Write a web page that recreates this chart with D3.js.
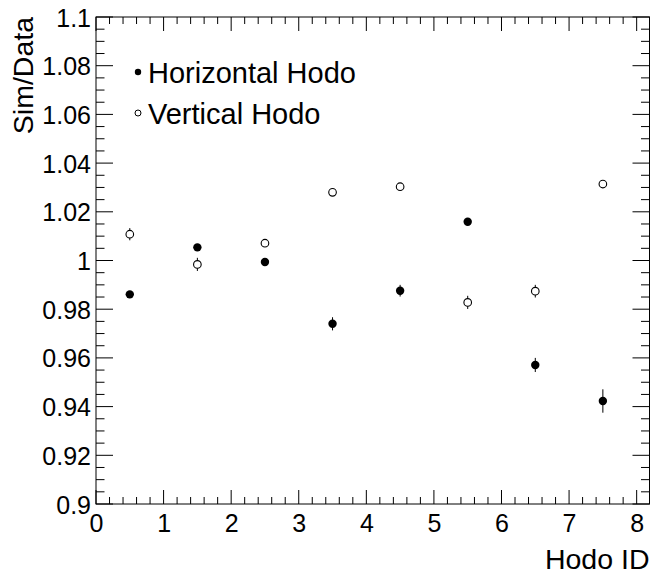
<!DOCTYPE html>
<html><head><meta charset="utf-8">
<script src="https://cdn.jsdelivr.net/npm/d3@7"></script>
<style>
html,body{margin:0;padding:0;background:#fff;}
svg{display:block;font-family:"Liberation Sans",Arial,Helvetica,sans-serif;}
</style></head>
<body>
<script>
const hodoX = [0.5, 1.5, 2.5, 3.5, 4.5, 5.5, 6.5, 7.5];
const horizontalVals = [0.9861, 1.0054, 0.9994, 0.9740, 0.9876, 1.0159, 0.9571, 0.9423];
const horizontalErrs = [0.0012, 0.0008, 0.0008, 0.0027, 0.0024, 0.0008, 0.0029, 0.0048];
const verticalVals = [1.0108, 0.9984, 1.0071, 1.0280, 1.0303, 0.9828, 0.9874, 1.0314];
const verticalErrs = [0.0025, 0.0027, 0.0012, 0.0010, 0.0010, 0.0027, 0.0026, 0.0010];
const xTickLabels = ["0","1","2","3","4","5","6","7","8"];
const yTickLabels = ["0.9","0.92","0.94","0.96","0.98","1","1.02","1.04","1.06","1.08","1.1"];
const legendLabels = ["Horizontal Hodo", "Vertical Hodo"];

const W = 651, H = 575;
const L = 96, R = 649.5, T = 17, B = 504;
const svg = d3.select("body").append("svg").attr("width", W).attr("height", H);

const x = d3.scaleLinear().domain([0, 8.19]).range([L, R]);
const y = d3.scaleLinear().domain([0.9, 1.1]).range([B, T]);

const g = svg.append("g");
const lw = 1;

// frame
g.append("rect").attr("x", L).attr("y", T).attr("width", R - L).attr("height", B - T)
  .attr("fill", "none").attr("stroke", "#000").attr("stroke-width", lw);

// x ticks
const xMajor = d3.range(0, 9, 1);
const xMinor = d3.range(0, 8.19, 0.2).filter(v => Math.abs(v - Math.round(v)) > 1e-6);
const xAxisB = d3.axisBottom(x).tickValues(xMajor).tickSize(0).tickFormat((d,i)=>xTickLabels[i]);
xMajor.forEach(v => {
  g.append("line").attr("x1", x(v)).attr("x2", x(v)).attr("y1", B).attr("y2", B - 14).attr("stroke", "#000");
  g.append("line").attr("x1", x(v)).attr("x2", x(v)).attr("y1", T).attr("y2", T + 14).attr("stroke", "#000");
});
xMinor.forEach(v => {
  g.append("line").attr("x1", x(v)).attr("x2", x(v)).attr("y1", B).attr("y2", B - 7).attr("stroke", "#000");
  g.append("line").attr("x1", x(v)).attr("x2", x(v)).attr("y1", T).attr("y2", T + 7).attr("stroke", "#000");
});
const xa = svg.append("g").attr("transform", `translate(0,${B})`).call(xAxisB);
xa.select(".domain").remove();
xa.selectAll("text").attr("font-size", 25).attr("fill", "#000").attr("dy", null).attr("y", 28)
  .attr("font-family", '"Liberation Sans",Arial,sans-serif');

// y ticks
const yMajor = d3.range(0, 11).map(i => 0.9 + i * 0.02);
const yMinor = d3.range(0, 41).map(i => 0.9 + i * 0.005).filter((v, i) => i % 4 !== 0);
yMajor.forEach(v => {
  g.append("line").attr("x1", L).attr("x2", L + 17).attr("y1", y(v)).attr("y2", y(v)).attr("stroke", "#000");
  g.append("line").attr("x1", R).attr("x2", R - 17).attr("y1", y(v)).attr("y2", y(v)).attr("stroke", "#000");
});
yMinor.forEach(v => {
  g.append("line").attr("x1", L).attr("x2", L + 8.5).attr("y1", y(v)).attr("y2", y(v)).attr("stroke", "#000");
  g.append("line").attr("x1", R).attr("x2", R - 8.5).attr("y1", y(v)).attr("y2", y(v)).attr("stroke", "#000");
});
const yAxisL = d3.axisLeft(y).tickValues(yMajor).tickSize(0).tickPadding(5).tickFormat((d,i)=>yTickLabels[i]);
const ya = svg.append("g").attr("transform", `translate(${L},0)`).call(yAxisL);
ya.select(".domain").remove();
ya.selectAll("text").attr("font-size", 25).attr("fill", "#000").attr("dy", "0.36em")
  .attr("font-family", '"Liberation Sans",Arial,sans-serif');

// axis titles
svg.append("text").attr("x", R).attr("y", 569).attr("text-anchor", "end")
  .attr("font-size", 28.5).text("Hodo ID");
svg.append("text").attr("transform", `translate(33,${T}) rotate(-90)`).attr("text-anchor", "end")
  .attr("font-size", 28.5).text("Sim/Data");

// data
function drawSeries(vals, errs, filled) {
  const s = svg.append("g");
  hodoX.forEach((xv, i) => {
    s.append("line").attr("x1", x(xv)).attr("x2", x(xv))
      .attr("y1", y(vals[i] - errs[i])).attr("y2", y(vals[i] + errs[i]))
      .attr("stroke", "#000").attr("stroke-width", 1);
    s.append("circle").attr("cx", x(xv)).attr("cy", y(vals[i])).attr("r", filled ? 4.2 : 3.8)
      .attr("fill", filled ? "#000" : "#fff").attr("stroke", "#000").attr("stroke-width", filled ? 0 : 1.1);
  });
}
drawSeries(horizontalVals, horizontalErrs, true);
drawSeries(verticalVals, verticalErrs, false);

// legend
const leg = svg.append("g");
[[72, true], [113, false]].forEach(([ly, filled], i) => {
  leg.append("circle").attr("cx", 138).attr("cy", ly).attr("r", filled ? 3.2 : 3)
    .attr("fill", filled ? "#000" : "#fff").attr("stroke", "#000").attr("stroke-width", filled ? 0 : 1);
  leg.append("text").attr("x", 148).attr("y", ly + 10.5).attr("font-size", 29).text(legendLabels[i]);
});
</script>
</body></html>
